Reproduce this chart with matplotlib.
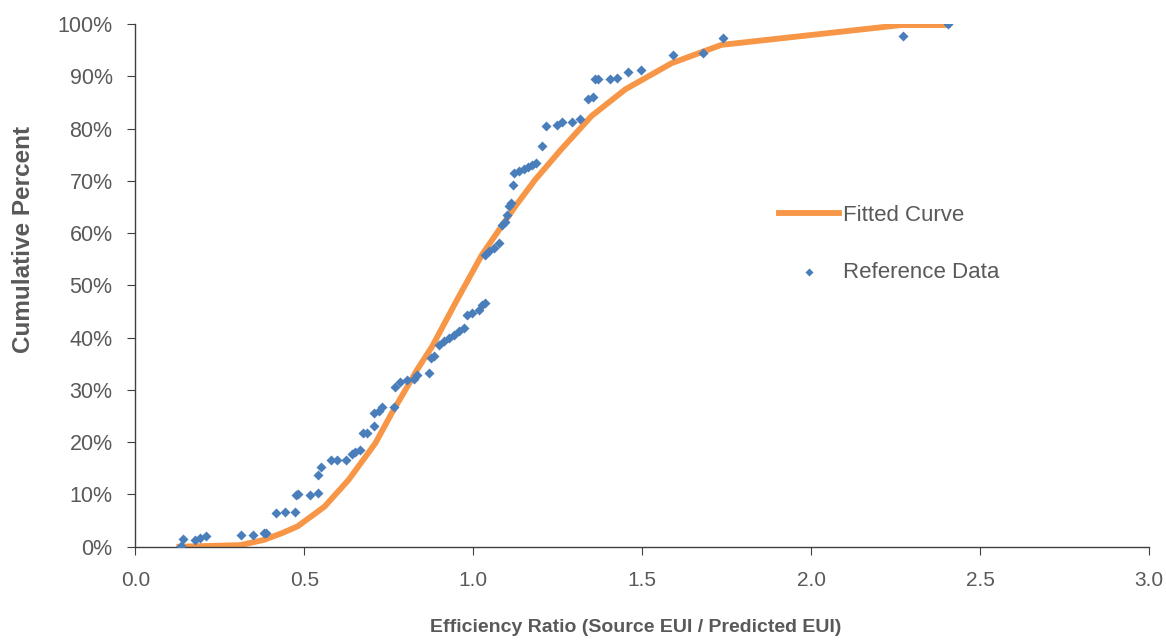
import matplotlib.pyplot as plt
from matplotlib.ticker import PercentFormatter

plt.rcParams['font.family'] = ['Liberation Sans', 'DejaVu Sans']

# reference data points (efficiency ratio, cumulative percent)
ref_x = [0.135, 0.141, 0.176, 0.190, 0.208, 0.311, 0.348, 0.380, 0.387, 0.415,
         0.444, 0.471, 0.474, 0.481, 0.516, 0.541, 0.540, 0.550, 0.580, 0.597,
         0.624, 0.641, 0.651, 0.666, 0.673, 0.686, 0.705, 0.705, 0.720, 0.730,
         0.764, 0.769, 0.784, 0.804, 0.824, 0.833, 0.868, 0.876, 0.883, 0.897,
         0.912, 0.927, 0.942, 0.957, 0.971, 0.981, 0.996, 1.016, 1.025, 1.035,
         1.035, 1.045, 1.060, 1.075, 1.085, 1.093, 1.099, 1.107, 1.112, 1.116,
         1.121, 1.134, 1.149, 1.163, 1.173, 1.185, 1.203, 1.215, 1.247, 1.262,
         1.291, 1.316, 1.339, 1.353, 1.360, 1.370, 1.405, 1.424, 1.459, 1.496,
         1.592, 1.681, 1.740, 2.272, 2.405]
ref_y = [0.2, 1.4, 1.3, 1.7, 2.1, 2.3, 2.3, 2.6, 2.6, 6.4,
         6.7, 6.7, 9.8, 10.1, 9.9, 10.3, 13.8, 15.2, 16.5, 16.6,
         16.6, 17.8, 18.2, 18.5, 21.7, 21.7, 23.0, 25.6, 25.9, 26.8,
         26.8, 30.6, 31.6, 31.9, 32.1, 32.9, 33.3, 36.1, 36.4, 38.6,
         39.3, 39.9, 40.5, 41.2, 41.8, 44.4, 44.7, 45.3, 46.3, 46.7,
         55.8, 56.5, 57.1, 58.1, 61.6, 62.2, 63.5, 65.1, 65.8, 69.2,
         71.5, 71.8, 72.2, 72.7, 73.0, 73.4, 76.7, 80.4, 80.7, 81.3,
         81.3, 81.9, 85.6, 86.1, 89.4, 89.4, 89.4, 89.6, 90.9, 91.2,
         94.1, 94.4, 97.4, 97.7, 100.0]

# fitted curve
fit_x = [0.13, 0.31, 0.38, 0.434, 0.48, 0.533, 0.56, 0.631, 0.71, 0.759,
         0.799, 0.833, 0.878, 0.95, 1.025, 1.124, 1.183, 1.26, 1.35, 1.45,
         1.587, 1.734, 2.267, 2.405]
fit_y = [0.0, 0.3, 1.3, 2.6, 3.9, 6.4, 7.7, 12.8, 19.8, 25.6,
         30.0, 33.8, 38.3, 47.0, 55.8, 65.1, 70.2, 76.0, 82.4, 87.5,
         92.5, 96.0, 99.8, 99.8]

grey = '#595959'
orange = '#f79646'
blue = '#4a7ebb'

fig = plt.figure(figsize=(11.66, 6.4), dpi=100)
ax = fig.add_axes([0.1162, 0.1458, 0.8692, 0.8167])

ax.plot(fit_x, fit_y, color=orange, lw=4.2, label='Fitted Curve', zorder=2)
ax.scatter(ref_x, ref_y, marker='D', s=26, color=blue, lw=0,
           label='Reference Data', zorder=3)

ax.set_xlim(0, 3.0)
ax.set_ylim(0, 100)
ax.set_xticks([0, 0.5, 1.0, 1.5, 2.0, 2.5, 3.0])
ax.set_xticklabels(['0.0', '0.5', '1.0', '1.5', '2.0', '2.5', '3.0'])
ax.set_yticks(range(0, 101, 10))
ax.yaxis.set_major_formatter(PercentFormatter(decimals=0))

for s in ['top', 'right']:
    ax.spines[s].set_visible(False)
for s in ['left', 'bottom']:
    ax.spines[s].set_color('#404040')
    ax.spines[s].set_linewidth(1.0)
ax.tick_params(axis='both', colors='#404040', labelcolor=grey,
               length=5.5, direction='out')
ax.tick_params(axis='y', labelsize=15.5, pad=11)
ax.tick_params(axis='x', labelsize=15, pad=12)

ax.set_ylabel('Cumulative Percent', fontsize=17.5, fontweight='bold',
              color=grey)
ax.yaxis.set_label_coords(-0.099, 0.587)
ax.set_xlabel('Efficiency Ratio (Source EUI / Predicted EUI)', fontsize=14,
              fontweight='bold', color=grey)
ax.xaxis.set_label_coords(0.494, -0.139)

leg = ax.legend(loc='upper left', bbox_to_anchor=(0.615, 0.692), frameon=False,
                fontsize=16, handlelength=2.7, labelspacing=1.6,
                handletextpad=0.2, markerscale=0.8)
for t in leg.get_texts():
    t.set_color(grey)

fig.savefig('out.png', dpi=100)
